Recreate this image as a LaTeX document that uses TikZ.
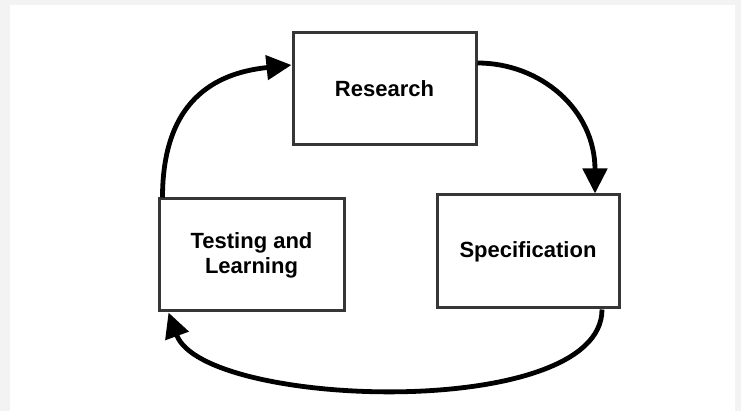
\documentclass[tikz,border=0pt]{standalone}
\usepackage{fontspec}
\setmainfont{Liberation Sans}
\usetikzlibrary{arrows.meta}
\definecolor{framegray}{HTML}{F3F3F3}
\definecolor{boxline}{HTML}{363636}
\tikzset{
  stagebox/.style={draw=boxline, line width=3pt, fill=white, rectangle,
    inner sep=0pt, align=center,
    font=\bfseries\fontsize{22}{25}\selectfont},
  flowarrow/.style={draw=black, line width=4.8pt,
    -{Triangle[length=25pt,width=24pt]}},
}
\begin{document}
\begin{tikzpicture}[x=1pt,y=-1pt]
  \useasboundingbox (0,0) rectangle (741,411);
  \fill[framegray] (0,0) rectangle (741,411);
  \fill[white] (10,5) rectangle (735,411);

  \node[stagebox, minimum width=183pt, minimum height=112pt] (R) at (384.5,89) {Research};
  \node[stagebox, minimum width=182pt, minimum height=113pt] (S) at (528,251.5) {Specification};
  \node[stagebox, minimum width=185pt, minimum height=112pt] (T) at (251.5,255) {Testing and\\Learning};

  \draw[flowarrow] ([xshift=5pt]T.north west) .. controls +(0,-105) and +(-67,7) .. ([yshift=24pt]R.west);
  \draw[flowarrow] ([yshift=26pt]R.east) .. controls +(63,0) and +(0,-84) .. ([xshift=67pt]S.north);
  \draw[flowarrow] ([xshift=74pt]S.south) .. controls +(0,112) and +(35,96) .. ([xshift=11pt]T.south west);
\end{tikzpicture}
\end{document}
